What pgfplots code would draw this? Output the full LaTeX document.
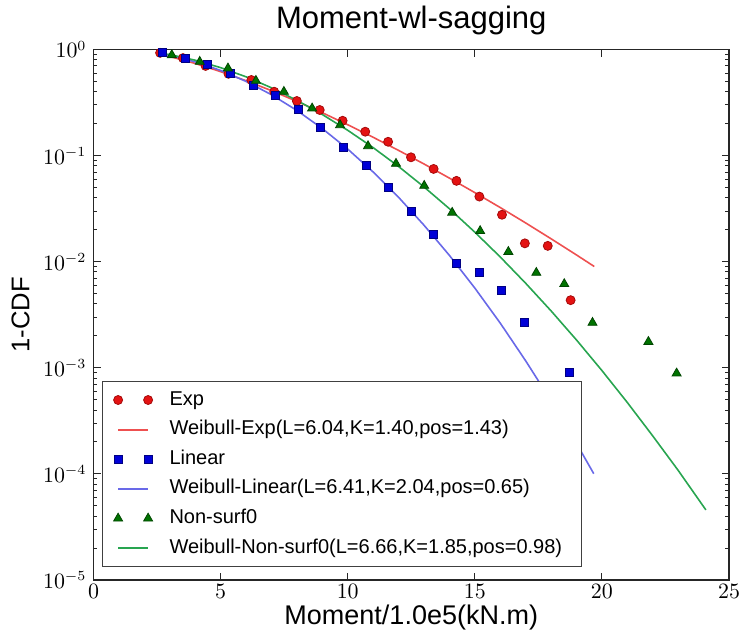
\documentclass[border=0pt]{standalone}
\usepackage[no-math]{fontspec}
\setmainfont{Liberation Sans}
\usepackage{pgfplots}
\pgfplotsset{compat=1.18}
\definecolor{mred}{RGB}{228,18,18}
\definecolor{mredE}{RGB}{165,10,10}
\definecolor{mblue}{RGB}{0,0,215}
\definecolor{mblueE}{RGB}{0,0,130}
\definecolor{mgreen}{RGB}{0,115,0}
\definecolor{mgreenE}{RGB}{0,70,0}
\definecolor{lred}{RGB}{238,80,80}
\definecolor{lblue}{RGB}{105,105,232}
\definecolor{lgreen}{RGB}{40,165,80}
\begin{document}
\begin{tikzpicture}
\begin{semilogyaxis}[
  scale only axis, width=317.75pt, height=265.25pt,
  xmin=0, xmax=25, ymin=1e-5, ymax=1,
  xtick={0,5,...,25},
  ytick={1e-5,1e-4,1e-3,1e-2,1e-1,1},
  axis line style={line width=0.6pt, black!85},
  major tick length=3.5pt, minor tick length=2pt,
  every tick/.style={black!85, line width=0.5pt},
  tick label style={font=\fontsize{10.5}{12}\selectfont},
  xticklabel style={yshift=1.5pt},
  title={Moment-wl-sagging},
  title style={at={(axis description cs:0.5,1.0179)}, anchor=base, inner sep=0pt, font=\fontsize{15.5}{18}\selectfont},
  xlabel={Moment/1.0e5(kN.m)},
  xlabel style={at={(axis description cs:0.5,-0.0830)}, anchor=base, inner sep=0pt, font=\fontsize{13.5}{16}\selectfont},
  ylabel={1-CDF},
  ylabel style={at={(axis description cs:-0.1010,0.5)}, anchor=base, inner sep=0pt, font=\fontsize{12.8}{15}\selectfont},
  legend cell align=left,
  legend style={at={(axis description cs:0.0134,0.0245)}, anchor=south west,
    draw=black!75, line width=0.6pt, fill=white,
    font=\fontsize{10}{12}\selectfont,
    inner xsep=4.85pt, inner ysep=4.5pt, row sep=5.4pt,
    nodes={inner sep=0pt, text height=7.2pt, text depth=2.2pt}},
  legend image code/.code={\path (-2.5pt,0pt) (25.3pt,0pt); \draw[#1] plot coordinates {(0pt,0pt) (15pt,0pt)};},
]
% Exp data
\addplot[only marks, mark=*, mark size=2.25pt, mark options={fill=mred, draw=mredE, line width=0.4pt}] coordinates {
(2.62,0.93) (3.52,0.83) (4.41,0.70) (5.31,0.59) (6.21,0.516) (7.11,0.40) (8.00,0.327) (8.90,0.269) (9.80,0.213) (10.69,0.168) (11.59,0.135) (12.49,0.0964) (13.38,0.0749) (14.28,0.0578) (15.18,0.0411) (16.07,0.0277) (16.97,0.0149) (17.87,0.0141) (18.77,0.00434)
};
\addlegendentry{Exp}
% Weibull-Exp
\addplot[draw=lred, line width=0.8pt, mark=none,
  legend image code/.code={\path (-2.5pt,0pt) (25.3pt,0pt); \draw[draw=lred, line width=0.9pt] (0pt,0pt) -- (15pt,0pt);}] coordinates {
(2.5,0.915) (3,0.859) (4,0.739) (5,0.619) (6,0.508) (7,0.4095) (8,0.3247) (9,0.2536) (10,0.1955) (11,0.1489) (12,0.1120) (13,0.0834) (14,0.0614) (15,0.0448) (16,0.0324) (17,0.0232) (18,0.01645) (19,0.01158) (19.7,0.00901)
};
\addlegendentry{Weibull-Exp(L=6.04,K=1.40,pos=1.43)}
% Linear data
\addplot[only marks, mark=square*, mark size=2pt, mark options={fill=mblue, draw=mblueE, line width=0.4pt}] coordinates {
(2.72,0.93) (3.61,0.83) (4.50,0.73) (5.39,0.60) (6.28,0.46) (7.17,0.37) (8.06,0.273) (8.94,0.185) (9.83,0.120) (10.72,0.0815) (11.61,0.0506) (12.50,0.0296) (13.39,0.0179) (14.28,0.00966) (15.17,0.00794) (16.06,0.00533) (16.94,0.00268) (18.74,0.0009)
};
\addlegendentry{Linear}
% Weibull-Linear
\addplot[draw=lblue, line width=0.8pt, mark=none,
  legend image code/.code={\path (-2.5pt,0pt) (25.3pt,0pt); \draw[draw=lblue, line width=0.9pt] (0pt,0pt) -- (15pt,0pt);}] coordinates {
(2.6,0.916) (3,0.879) (4,0.766) (5,0.6355) (6,0.5008) (7,0.3750) (8,0.2666) (9,0.1800) (10,0.1153) (11,0.0701) (12,0.0405) (13,0.0221) (14,0.01148) (15,0.00565) (16,0.00264) (17,0.001165) (18,0.000489) (19,0.000194) (19.68,0.0001004)
};
\addlegendentry{Weibull-Linear(L=6.41,K=2.04,pos=0.65)}
% Non-surf0 data
\addplot[only marks, mark=triangle*, mark size=2.6pt, mark options={fill=mgreen, draw=mgreenE, line width=0.4pt}] coordinates {
(3.08,0.887) (4.18,0.767) (5.29,0.665) (6.39,0.508) (7.49,0.400) (8.60,0.279) (9.70,0.194) (10.80,0.123) (11.90,0.0839) (13.01,0.052) (14.11,0.029) (15.21,0.0195) (16.32,0.0124) (17.42,0.00787) (18.52,0.00617) (19.63,0.00266) (21.83,0.00176) (22.94,0.000887)
};
\addlegendentry{Non-surf0}
% Weibull-Non-surf0
\addplot[draw=lgreen, line width=0.8pt, mark=none,
  legend image code/.code={\path (-2.5pt,0pt) (25.3pt,0pt); \draw[draw=lgreen, line width=0.9pt] (0pt,0pt) -- (15pt,0pt);}] coordinates {
(2.9,0.905) (3,0.896) (4,0.793) (5,0.675) (6,0.553) (7,0.436) (8,0.332) (9,0.2441) (10,0.1733) (11,0.1190) (12,0.0790) (13,0.0507) (14,0.0316) (15,0.01900) (16,0.01109) (17,0.00627) (18,0.00344) (19,0.00183) (20,0.000943) (21,0.000471) (22,0.000228) (23,0.000108) (24.09,0.0000458)
};
\addlegendentry{Weibull-Non-surf0(L=6.66,K=1.85,pos=0.98)\rule{5pt}{0pt}}
\end{semilogyaxis}
\pgfresetboundingbox
\path[use as bounding box] (-46.75pt,-26.5pt) rectangle (322.75pt,290pt);
\end{tikzpicture}
\end{document}
